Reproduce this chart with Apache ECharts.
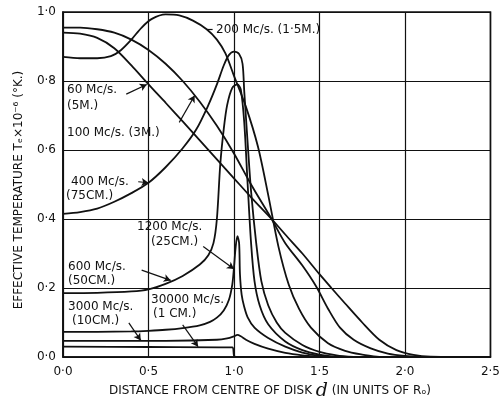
<!DOCTYPE html>
<html>
<head>
<meta charset="utf-8">
<script src="https://cdn.jsdelivr.net/npm/echarts@6/dist/echarts.min.js"></script>
<style>
  html, body { margin: 0; padding: 0; background: #fff; }
  #chart { width: 503px; height: 403px; }
</style>
</head>
<body>
<div id="chart"></div>
<script>
// curves: [distance d, Te x 10^-6]
let mc60 = [[0, 0.94], [0.1, 0.937], [0.2, 0.925], [0.3, 0.895], [0.4, 0.845], [0.5, 0.79], [0.6, 0.737], [0.7, 0.683], [0.8, 0.628], [0.9, 0.573], [1.0, 0.518], [1.1, 0.463], [1.22, 0.4], [1.3, 0.355], [1.4, 0.3], [1.5, 0.24], [1.57, 0.2], [1.65, 0.155], [1.75, 0.1], [1.85, 0.05], [1.95, 0.02], [2.05, 0.006], [2.15, 0.001], [2.5, 0]];
let mc100 = [[0, 0.955], [0.1, 0.955], [0.2, 0.95], [0.3, 0.94], [0.4, 0.92], [0.5, 0.89], [0.6, 0.85], [0.7, 0.8], [0.8, 0.74], [0.9, 0.67], [1.0, 0.59], [1.1, 0.5], [1.22, 0.4], [1.3, 0.33], [1.4, 0.265], [1.48, 0.205], [1.55, 0.14], [1.62, 0.085], [1.7, 0.05], [1.8, 0.025], [1.9, 0.01], [2.0, 0.003], [2.1, 0]];
let mc200 = [[0, 0.87], [0.1, 0.866], [0.2, 0.866], [0.28, 0.872], [0.34, 0.89], [0.4, 0.92], [0.46, 0.955], [0.52, 0.98], [0.6, 0.993], [0.68, 0.99], [0.76, 0.975], [0.84, 0.95], [0.9, 0.92], [0.95, 0.88], [1.0, 0.815], [1.07, 0.725], [1.14, 0.61], [1.2, 0.47], [1.26, 0.32], [1.32, 0.21], [1.38, 0.14], [1.45, 0.085], [1.55, 0.04], [1.65, 0.018], [1.75, 0.007], [1.85, 0]];
let mc400 = [[0, 0.415], [0.1, 0.42], [0.2, 0.43], [0.3, 0.45], [0.4, 0.475], [0.5, 0.505], [0.6, 0.55], [0.7, 0.605], [0.78, 0.66], [0.85, 0.73], [0.9, 0.79], [0.94, 0.845], [0.97, 0.875], [1.0, 0.885], [1.03, 0.878], [1.05, 0.85], [1.06, 0.77], [1.08, 0.62], [1.1, 0.48], [1.13, 0.33], [1.16, 0.22], [1.2, 0.15], [1.25, 0.1], [1.3, 0.07], [1.4, 0.035], [1.5, 0.015], [1.6, 0.005], [1.7, 0]];
let mc600 = [[0, 0.185], [0.2, 0.186], [0.4, 0.19], [0.5, 0.196], [0.6, 0.212], [0.7, 0.235], [0.8, 0.268], [0.85, 0.295], [0.88, 0.33], [0.9, 0.4], [0.92, 0.56], [0.94, 0.66], [0.96, 0.73], [0.99, 0.78], [1.02, 0.79], [1.04, 0.775], [1.06, 0.68], [1.08, 0.5], [1.1, 0.33], [1.12, 0.22], [1.15, 0.15], [1.2, 0.095], [1.3, 0.045], [1.4, 0.02], [1.5, 0.007], [1.6, 0]];
let mc1200 = [[0, 0.073], [0.2, 0.073], [0.4, 0.074], [0.5, 0.076], [0.6, 0.079], [0.7, 0.084], [0.8, 0.092], [0.86, 0.102], [0.9, 0.114], [0.94, 0.135], [0.97, 0.165], [0.99, 0.21], [1.0, 0.26], [1.01, 0.32], [1.02, 0.35], [1.03, 0.33], [1.035, 0.24], [1.045, 0.18], [1.06, 0.145], [1.08, 0.115], [1.12, 0.085], [1.2, 0.055], [1.3, 0.03], [1.4, 0.013], [1.5, 0.004], [1.6, 0]];
let mc3000 = [[0, 0.047], [0.3, 0.047], [0.6, 0.047], [0.9, 0.05], [0.96, 0.054], [1.0, 0.06], [1.02, 0.064], [1.04, 0.06], [1.07, 0.05], [1.12, 0.038], [1.2, 0.024], [1.3, 0.012], [1.4, 0.005], [1.5, 0.001], [1.6, 0]];
let mc30000 = [[0, 0.03], [0.5, 0.029], [0.99, 0.028], [1.0, 0.004], [1.01, 0], [2.5, 0]];

let curves = [mc60, mc100, mc200, mc400, mc600, mc1200, mc3000, mc30000];

// pointer arrows (from, to) in data units
let arrows = [
  [[0.37, 0.762], [0.49, 0.79]],
  [[0.68, 0.68], [0.77, 0.758]],
  [[0.44, 0.508], [0.5, 0.505]],
  [[0.82, 0.32], [1.0, 0.255]],
  [[0.46, 0.252], [0.63, 0.222]],
  [[0.385, 0.099], [0.455, 0.048]],
  [[0.70, 0.093], [0.79, 0.03]]
];
let dash200 = [[0.84, 0.95], [0.875, 0.95]];

// curve labels: text, pixel x, pixel y
let labels = [
  ['200 Mc/s. (1·5M.)', 216, 30],
  ['60 Mc/s.', 67, 90], ['(5M.)', 67, 106],
  ['100 Mc/s. (3M.)', 67, 133],
  ['400 Mc/s.', 71, 182], ['(75CM.)', 66, 196],
  ['1200 Mc/s.', 137, 227], ['(25CM.)', 151, 242],
  ['600 Mc/s.', 68, 267], ['(50CM.)', 68, 281],
  ['3000 Mc/s.', 68, 307], ['(10CM.)', 72, 321],
  ['30000 Mc/s.', 151, 300], ['(1 CM.)', 153, 314]
];

let ink = '#111';
let font = 'DejaVu Sans';

function dotFmt(v) {
  return v.toFixed(1).replace('.', '·');
}

let chart = echarts.init(document.getElementById('chart'));

let series = curves.map(c => ({
  type: 'line',
  data: c,
  showSymbol: false,
  smooth: 0.3,
  lineStyle: { color: ink, width: 1.8 },
  silent: true
}));

let markData = arrows.map(a => [{ coord: a[0] }, { coord: a[1] }]);
markData.push([{ coord: dash200[0], symbol: 'none' }, { coord: dash200[1], symbol: 'none' }]);

series.push({
  type: 'line',
  data: [],
  markLine: {
    silent: true,
    animation: false,
    symbol: ['none', 'arrow'],
    symbolSize: [6, 7],
    label: { show: false },
    lineStyle: { color: ink, width: 1.2, type: 'solid' },
    data: markData
  }
});

let graphics = labels.map(l => ({
  type: 'text',
  x: l[1],
  y: l[2],
  style: {
    text: l[0],
    fill: ink,
    fontSize: 12,
    fontFamily: font,
    verticalAlign: 'middle'
  }
}));

graphics.push({
  type: 'text',
  x: 270,
  y: 391,
  style: {
    text: 'DISTANCE FROM CENTRE OF DISK {d|d} (IN UNITS OF Rₒ)',
    fill: ink,
    fontSize: 12,
    fontFamily: font,
    align: 'center',
    verticalAlign: 'middle',
    rich: {
      d: { fontSize: 19, fontStyle: 'italic', fontFamily: 'DejaVu Serif', fill: ink }
    }
  }
});

graphics.push({
  type: 'text',
  x: 19,
  y: 190,
  rotation: Math.PI / 2,
  style: {
    text: 'EFFECTIVE TEMPERATURE Tₑ×10⁻⁶ (°K.)',
    fill: ink,
    fontSize: 12,
    fontFamily: font,
    align: 'center',
    verticalAlign: 'middle'
  }
});

let option = {
  animation: false,
  backgroundColor: '#fff',
  grid: {
    left: 63,
    right: 11,
    top: 12,
    bottom: 46,
    show: true,
    borderColor: ink,
    borderWidth: 1.6
  },
  xAxis: {
    type: 'value',
    min: 0,
    max: 2.5,
    interval: 0.5,
    axisLine: { show: true, lineStyle: { color: ink, width: 1.6 } },
    axisTick: { show: false },
    splitLine: { show: true, lineStyle: { color: ink, width: 1.2 } },
    axisLabel: { color: ink, fontSize: 12, fontFamily: font, margin: 9, formatter: dotFmt }
  },
  yAxis: {
    type: 'value',
    min: 0,
    max: 1,
    interval: 0.2,
    axisLine: { show: true, lineStyle: { color: ink, width: 1.6 } },
    axisTick: { show: false },
    splitLine: { show: true, lineStyle: { color: ink, width: 1.2 } },
    axisLabel: { color: ink, fontSize: 12, fontFamily: font, margin: 7, formatter: dotFmt }
  },
  series: series,
  graphic: graphics
};

chart.setOption(option);
</script>
</body>
</html>
